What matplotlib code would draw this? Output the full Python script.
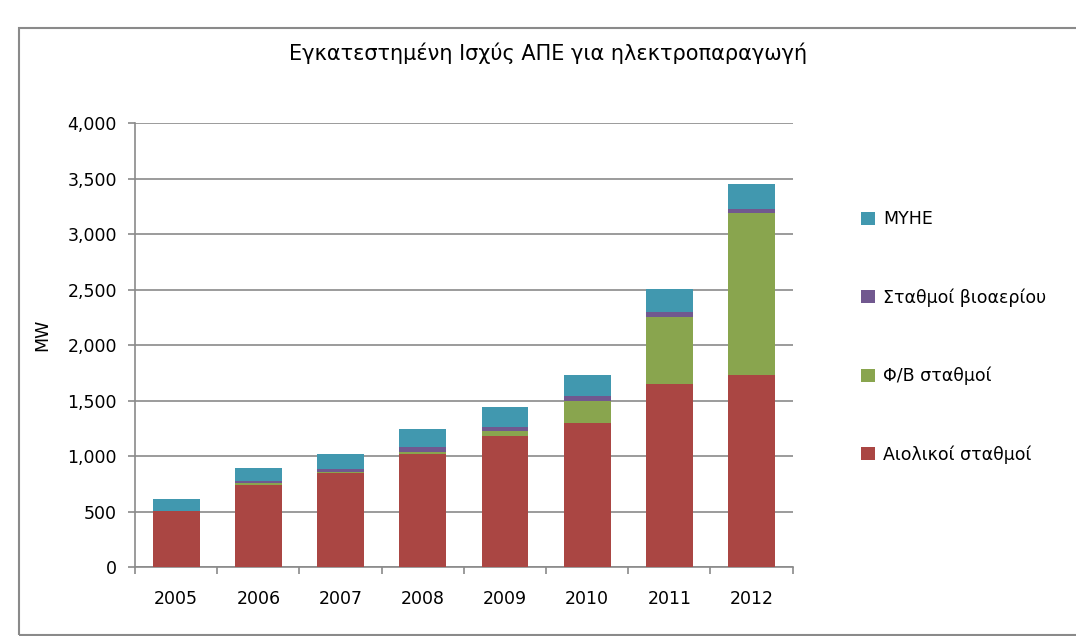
import numpy as np
import matplotlib
matplotlib.use("Agg")
import matplotlib.pyplot as plt
from matplotlib.patches import Rectangle, Patch
from matplotlib.ticker import FuncFormatter, MultipleLocator

years = ["2005", "2006", "2007", "2008", "2009", "2010", "2011", "2012"]
wind = [505, 741, 852, 1021, 1186, 1300, 1654, 1733]
pv = [0, 18, 9, 18, 42, 200, 602, 1460]
biogas = [0, 18, 24, 45, 36, 44, 44, 36]
small_hydro = [110, 119, 136, 162, 181, 189, 208, 226]

series_names = ["Αιολικοί σταθμοί", "Φ/Β σταθμοί", "Σταθμοί βιοαερίου", "ΜΥΗΕ"]
series_colors = ["#AA4643", "#89A54E", "#71588F", "#4198AF"]

plt.rcParams["font.family"] = ["DejaVu Sans"]
grid_color = "#8a8a8a"

fig = plt.figure(figsize=(10.76, 6.36), dpi=100)
ax = fig.add_axes([0.1255, 0.108, 0.6112, 0.6986])

x = np.arange(len(years))
bottom = np.zeros(len(years))
handles = []
for vals, name, col in zip([wind, pv, biogas, small_hydro], series_names, series_colors):
    ax.bar(x, vals, width=0.57, bottom=bottom, color=col, zorder=3)
    bottom += np.array(vals)
    handles.append(Patch(facecolor=col, label=name))

ax.set_xlim(-0.5, len(years) - 0.5)
ax.set_ylim(0, 4000)
ax.yaxis.set_major_locator(MultipleLocator(500))
ax.yaxis.set_major_formatter(FuncFormatter(lambda v, p: f"{int(v):,}"))
ax.grid(axis="y", color=grid_color, lw=1.2, zorder=0)

ax.set_xticks(x)
ax.set_xticklabels(years)
ax.set_xticks(np.arange(len(years) + 1) - 0.5, minor=True)
ax.tick_params(axis="x", which="major", length=0, pad=16, labelsize=12.5)
ax.tick_params(axis="x", which="minor", length=5, width=1.2, color=grid_color, direction="out")
ax.tick_params(axis="y", length=5, width=1.2, color=grid_color, pad=8, labelsize=12.5)

for side in ["top", "right"]:
    ax.spines[side].set_visible(False)
for side in ["left", "bottom"]:
    ax.spines[side].set_color(grid_color)
    ax.spines[side].set_linewidth(1.2)

fig.text(0.039, 0.473, "MW", rotation=90, ha="center", va="center", fontsize=12.5)
fig.text(0.509, 0.917, "Εγκατεστημένη Ισχύς ΑΠΕ για ηλεκτροπαραγωγή",
         ha="center", va="center", fontsize=15)

fig.legend(handles=handles[::-1], loc="center left", bbox_to_anchor=(0.786, 0.47),
           frameon=False, fontsize=12.5, handlelength=0.8, handleheight=0.8,
           handletextpad=0.45, labelspacing=3.45)

# outer chart border
fig.patches.append(Rectangle((19 / 1076, 1 / 636), 1.2, (635 - 28) / 636,
                             transform=fig.transFigure, fill=False,
                             edgecolor=grid_color, lw=1.5))

fig.savefig("out.png", dpi=100)
